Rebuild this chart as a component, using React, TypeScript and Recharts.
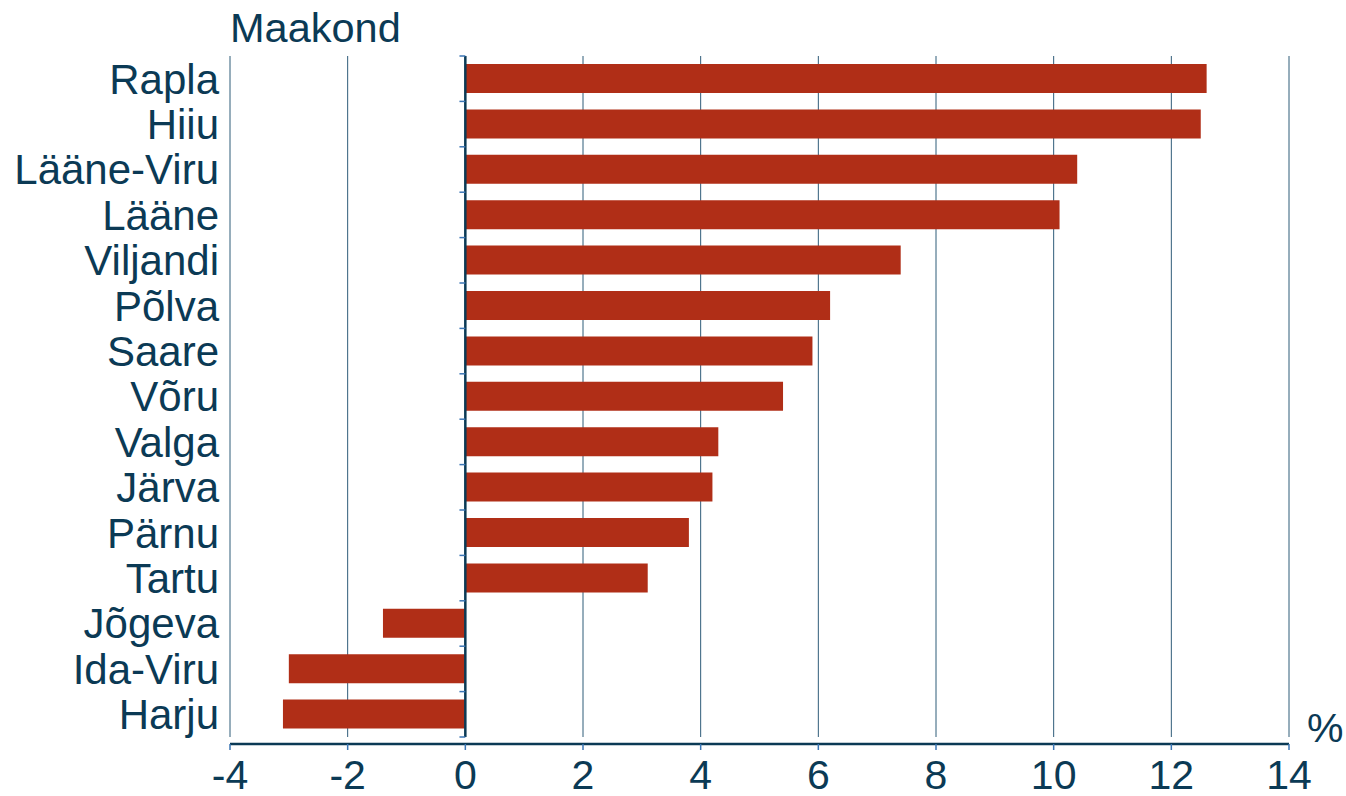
import React from 'react';
import { BarChart, Bar, XAxis, YAxis, CartesianGrid, ReferenceLine } from 'recharts';

const counties = ['Rapla', 'Hiiu', 'Lääne-Viru', 'Lääne', 'Viljandi', 'Põlva', 'Saare', 'Võru', 'Valga', 'Järva', 'Pärnu', 'Tartu', 'Jõgeva', 'Ida-Viru', 'Harju'];
const values = [12.6, 12.5, 10.4, 10.1, 7.4, 6.2, 5.9, 5.4, 4.3, 4.2, 3.8, 3.1, -1.4, -3.0, -3.1];
const xTicks = [-4, -2, 0, 2, 4, 6, 8, 10, 12, 14];
const yTitle = 'Maakond';
const xUnit = '%';

const data = counties.map((name, i) => ({ name, value: values[i] }));

const TEXT = '#0b3a55';
const BAR = '#b02e17';
const GRID = '#2f5c79';
const TICK = '#3b76b5';
const FONT = '"Liberation Sans", Arial, sans-serif';

export default function App() {
  return (
    <div style={{ position: 'absolute', left: 0, top: 0, width: 1346, height: 796, fontFamily: FONT }}>
      <BarChart
        width={1346}
        height={796}
        data={data}
        layout="vertical"
        margin={{ top: 56, right: 57, bottom: 9, left: 0 }}
      >
        <CartesianGrid horizontal={false} vertical stroke={GRID} strokeWidth={1} />
        <XAxis
          type="number"
          domain={[-4, 14]}
          ticks={xTicks}
          interval={0}
          height={50}
          axisLine={{ stroke: TEXT, strokeWidth: 2.5, transform: 'translate(0,7)' }}
          tickLine={{ stroke: TICK, strokeWidth: 1.5, transform: 'translate(0,7)' }}
          tickSize={6}
          tickMargin={17}
          tick={{ fill: TEXT, fontSize: 41, fontFamily: FONT }}
        />
        <YAxis
          type="category"
          dataKey="name"
          width={230}
          interval={0}
          axisLine={false}
          tickLine={false}
          tickSize={0}
          tickMargin={11}
          tick={{ fill: TEXT, fontSize: 42, fontFamily: FONT }}
        />
        <Bar dataKey="value" fill={BAR} barSize={29} isAnimationActive={false} />
        <ReferenceLine x={0} stroke={TEXT} strokeWidth={2.5} />
        {counties.map((c) => (
          <ReferenceLine
            key={'t-' + c}
            segment={[{ x: -0.1, y: c }, { x: 0, y: c }]}
            position="start"
            stroke={TICK}
            strokeWidth={1.5}
          />
        ))}
        <ReferenceLine
          segment={[{ x: -0.1, y: counties[counties.length - 1] }, { x: 0, y: counties[counties.length - 1] }]}
          position="end"
          stroke={TICK}
          strokeWidth={1.5}
        />
      </BarChart>
      <div style={{ position: 'absolute', left: 230, top: 7, fontSize: 41.5, lineHeight: '41.5px', color: TEXT, fontFamily: FONT }}>
        {yTitle}
      </div>
      <div style={{ position: 'absolute', left: 1307, top: 708, fontSize: 41, lineHeight: '41px', color: TEXT, fontFamily: FONT }}>
        {xUnit}
      </div>
    </div>
  );
}
